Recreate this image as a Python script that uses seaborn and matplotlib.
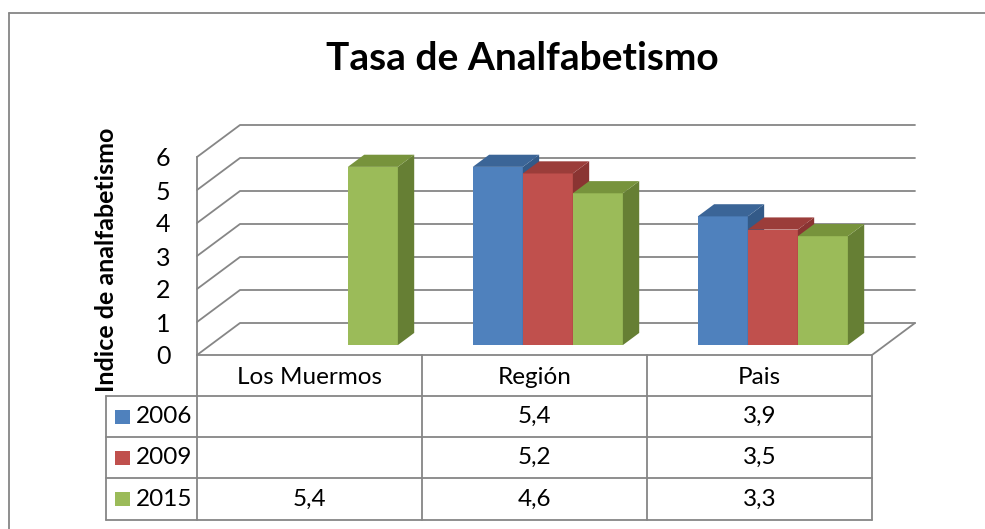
import numpy as np
import pandas as pd
import matplotlib
matplotlib.use("Agg")
import matplotlib.pyplot as plt
import matplotlib.transforms as mtransforms
from matplotlib.patches import Polygon, Rectangle
from matplotlib.lines import Line2D
import seaborn as sns

# data
categories = ["Los Muermos", "Región", "Pais"]
years = ["2006", "2009", "2015"]
v2006 = [np.nan, 5.4, 3.9]
v2009 = [np.nan, 5.2, 3.5]
v2015 = [5.4, 4.6, 3.3]
yticks = [0, 1, 2, 3, 4, 5, 6]
title = "Tasa de Analfabetismo"
ylabel = "Indice de analfabetismo"

front_cols = ["#4f81bd", "#c0504d", "#9bbb59"]
top_cols = ["#3b6597", "#9b3d3a", "#77933c"]
side_cols = ["#335a88", "#8a3432", "#667f34"]
gray = "#868686"

df = pd.DataFrame({"cat": categories * 3,
                   "year": np.repeat(years, 3),
                   "val": v2006 + v2009 + v2015})

sns.set_style("white")
plt.rcParams["font.family"] = ["Lato", "DejaVu Sans"]
plt.rcParams["text.color"] = "black"
plt.rcParams["axes.labelcolor"] = "black"
plt.rcParams["ytick.color"] = "black"

W, H = 985, 529
fig = plt.figure(figsize=(W / 100, H / 100), dpi=100)

def fx(x):
    return x / W

def fy(y):
    return 1 - y / H

ax = fig.add_axes([fx(197), fy(355), fx(872) - fx(197), fy(157) - fy(355)])
sns.barplot(data=df, x="cat", y="val", hue="year", order=categories, hue_order=years,
            palette=front_cols, saturation=1, width=0.667, errorbar=None,
            legend=False, ax=ax)
ax.set_xlim(-0.5, 2.5)
ax.set_ylim(0, 6)
ax.patch.set_visible(False)

# depth of the 3d box (pixels) and where the bars sit in it
DX, DY = 43, 32
d0, d1 = 0.31, 0.69

def P(x, y, d):
    px, py = ax.transData.transform((x, y))
    return (px + DX * d, py + DY * d)

ident = mtransforms.IdentityTransform()

# walls / gridlines
for v in yticks:
    pts = [P(-0.5, v, 0), P(-0.5, v, 1), P(2.5, v, 1)]
    ax.add_artist(Line2D([p[0] for p in pts], [p[1] for p in pts], color=gray, lw=1.3,
                         transform=ident, clip_on=False, zorder=0.5))
pts = [P(2.5, 0, 0), P(2.5, 0, 1)]
ax.add_artist(Line2D([p[0] for p in pts], [p[1] for p in pts], color=gray, lw=1.3,
                     transform=ident, clip_on=False, zorder=0.5))

# 3d bars
shift = mtransforms.offset_copy(ax.transData, fig=fig, x=DX * d0, y=DY * d0, units="dots")
bars = [p for p in ax.patches if np.isfinite(p.get_height()) and p.get_height() > 0]
bars.sort(key=lambda p: p.get_x())
for i, p in enumerate(bars):
    x0, w, h = p.get_x(), p.get_width(), p.get_height()
    x1 = x0 + w
    k = front_cols.index(matplotlib.colors.to_hex(p.get_facecolor()))
    z = 2 + i * 0.1
    p.set_transform(shift)
    p.set_clip_on(False)
    p.set_edgecolor("none")
    p.set_zorder(z)
    side = Polygon([P(x1, 0, d0), P(x1, h, d0), P(x1, h, d1), P(x1, 0, d1)],
                   closed=True, fc=side_cols[k], ec="none", transform=ident,
                   clip_on=False, zorder=z + 0.01)
    top = Polygon([P(x0, h, d0), P(x1, h, d0), P(x1, h, d1), P(x0, h, d1)],
                  closed=True, fc=top_cols[k], ec="none", transform=ident,
                  clip_on=False, zorder=z + 0.02)
    ax.add_artist(side)
    ax.add_artist(top)

for s in ["top", "right"]:
    ax.spines[s].set_visible(False)
for s in ["left", "bottom"]:
    ax.spines[s].set_color(gray)
    ax.spines[s].set_linewidth(1.3)
ax.set_yticks(yticks)
ax.set_yticklabels([str(t) for t in yticks], fontsize=18)
ax.tick_params(axis="y", length=0, pad=19)
ax.set_xticks([])
ax.set_xlabel("")
ax.set_ylabel(ylabel, fontsize=18, fontweight="bold")
ax.yaxis.set_label_coords(-0.117, 0.48)

# data table below the plot
col_edges = [fig.transFigure.inverted().transform(ax.transData.transform((b, 0)))[0]
             for b in [-0.5, 0.5, 1.5, 2.5]]
row_y = [355, 396, 437, 478, 520]
tab_left = fx(106)
for yy in row_y[1:]:
    fig.add_artist(Line2D([tab_left, col_edges[-1]], [fy(yy), fy(yy)], color=gray, lw=1.3))
for xe in col_edges:
    fig.add_artist(Line2D([xe, xe], [fy(355), fy(520)], color=gray, lw=1.3))
fig.add_artist(Line2D([tab_left, tab_left], [fy(396), fy(520)], color=gray, lw=1.3))

for i, c in enumerate(categories):
    xc = (col_edges[i] + col_edges[i + 1]) / 2
    fig.text(xc, fy(378), c, ha="center", va="center", fontsize=17.5)

series = [v2006, v2009, v2015]
for r, (yr, vals) in enumerate(zip(years, series)):
    yc = (row_y[r + 1] + row_y[r + 2]) / 2
    fig.add_artist(Rectangle((fx(115), fy(yc + 7)), fx(15), fy(yc - 7) - fy(yc + 7),
                             fc=front_cols[r], ec="none"))
    fig.text(fx(136), fy(yc), yr, ha="left", va="center", fontsize=17.5)
    for i, v in enumerate(vals):
        if np.isfinite(v):
            xc = (col_edges[i] + col_edges[i + 1]) / 2
            fig.text(xc, fy(yc), f"{v:.1f}".replace(".", ","), ha="center", va="center",
                     fontsize=17.5)

# title and outer frame
fig.text(fx(522), fy(58), title, ha="center", va="center", fontsize=28, fontweight="bold")
fig.add_artist(Line2D([fx(9), 1], [fy(13), fy(13)], color=gray, lw=1.3))
fig.add_artist(Line2D([fx(9), fx(9)], [fy(13), 0], color=gray, lw=1.3))

fig.savefig("out.png", dpi=100)
